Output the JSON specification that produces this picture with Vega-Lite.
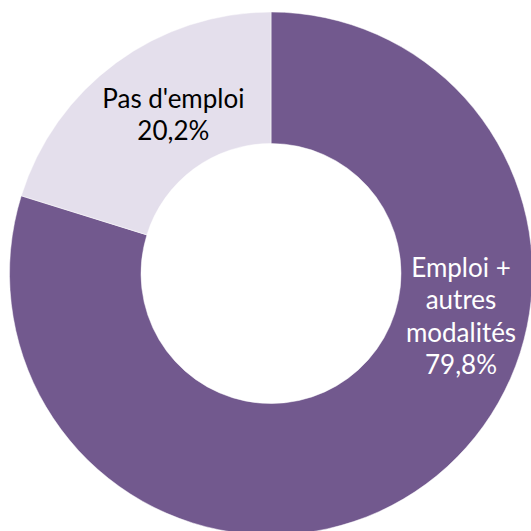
{
  "$schema": "https://vega.github.io/schema/vega-lite/v6.json",
  "autosize": "none",
  "padding": 0,
  "width": 542,
  "height": 547,
  "background": "#ffffff",
  "view": {"stroke": null},
  "data": {
    "values": [
      {"categorie": "Emploi + autres modalités", "label": "Emploi +\nautres\nmodalités\n79,8%", "part": 79.8},
      {"categorie": "Pas d'emploi", "label": "Pas d'emploi\n20,2%", "part": 20.2}
    ]
  },
  "transform": [
    {"stack": "part", "groupby": [], "sort": [{"field": "categorie", "order": "ascending"}], "as": ["t0", "t1"]}
  ],
  "encoding": {
    "theta": {"field": "t0", "type": "quantitative", "scale": {"domain": [0, 100]}},
    "theta2": {"field": "t1"}
  },
  "layer": [
    {
      "mark": {"type": "arc", "radius": 261.5, "radius2": 130, "stroke": "#ffffff", "strokeWidth": 0.5},
      "encoding": {
        "color": {
          "field": "categorie",
          "type": "nominal",
          "scale": {"domain": ["Emploi + autres modalités", "Pas d'emploi"], "range": ["#72598E", "#E4DFEC"]},
          "legend": null
        }
      }
    },
    {
      "transform": [{"filter": "datum.categorie == 'Pas d\\'emploi'"}],
      "mark": {"type": "text", "radius": 185, "dx": 79, "dy": -119, "font": "Lato", "fontSize": 26, "lineHeight": 32, "lineBreak": "\n", "align": "center", "baseline": "middle", "color": "#000000"},
      "encoding": {"text": {"field": "label", "type": "nominal"}}
    },
    {
      "transform": [{"filter": "datum.categorie != 'Pas d\\'emploi'"}],
      "mark": {"type": "text", "radius": 195, "dx": 190, "dy": 190, "font": "Lato", "fontSize": 26, "lineHeight": 32.5, "lineBreak": "\n", "align": "center", "baseline": "middle", "color": "#ffffff"},
      "encoding": {"text": {"field": "label", "type": "nominal"}}
    }
  ]
}
